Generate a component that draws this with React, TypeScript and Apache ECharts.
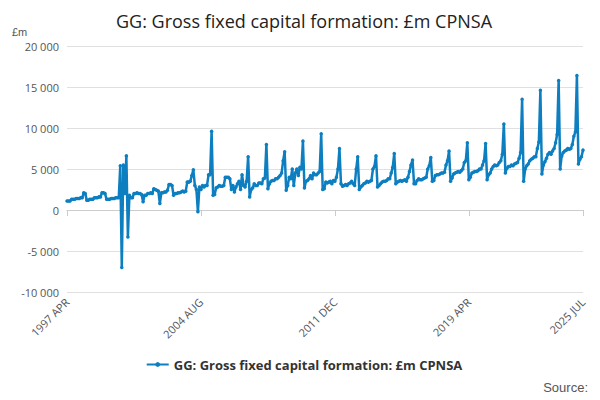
import React, { useEffect, useRef } from "react";
import * as echarts from "echarts";

const months = ["JAN","FEB","MAR","APR","MAY","JUN","JUL","AUG","SEP","OCT","NOV","DEC"];
const categories: string[] = [];
for (let y = 1997, m = 3; !(y === 2025 && m === 7); ) {
  categories.push(`${y} ${months[m]}`);
  m++; if (m === 12) { m = 0; y++; }
}

const fy1997 = [1100,1100,1100,1300,1300,1300,1400,1400,1400,1500,1500,2100];
const fy1998 = [2000,1200,1200,1300,1300,1300,1500,1500,1500,1600,1600,2100];
const fy1999 = [2100,2000,1300,1300,1300,1400,1400,1400,1500,1500,1500,5400];
const fy2000 = [-7000,5500,2000,6600,-3300,1800,1500,1500,2000,2000,2100,2000];
const fy2001 = [2000,1900,1000,1800,1800,2000,2000,2100,2000,2600,2500,2400];
const fy2002 = [2300,800,2100,2100,2200,2200,2400,3100,3100,3000,1800,2000];
const fy2003 = [2000,2100,2100,2200,2300,2200,2300,3400,3400,3500,4200,4900];
const fy2004 = [3000,2500,-200,2800,2500,3000,2800,3000,3000,4300,4300,9600];
const fy2005 = [1800,1900,2700,2800,3000,2900,2900,3000,4000,4000,4000,3800];
const fy2006 = [2500,3000,2200,2800,3200,3500,2500,4300,3000,2800,3500,6500];
const fy2007 = [1600,2500,2700,3200,3000,3000,3300,3300,3200,3800,3900,8000];
const fy2008 = [2600,3200,3500,3600,3600,3800,3800,4000,4200,4500,6000,7100];
const fy2009 = [2400,3000,4000,3800,5000,3000,4500,5000,4200,5200,5000,8400];
const fy2010 = [2700,3500,3600,3800,4200,3800,4500,4300,4300,4500,4700,9300];
const fy2011 = [2500,2600,3400,3300,3400,3500,3200,3600,3500,4000,5000,7500];
const fy2012 = [3200,2900,3000,3100,3000,3200,3300,3500,3200,3000,5000,6500];
const fy2013 = [2500,2800,3000,3200,3300,3500,3400,3500,3600,5000,5300,6600];
const fy2014 = [2800,3000,3200,3400,3500,3500,3600,3800,3800,4500,5200,6900];
const fy2015 = [3200,3400,3500,3600,3500,3600,3700,3500,4000,4700,5500,6100];
const fy2016 = [3200,3200,3600,3800,3700,3700,3800,3900,4000,5000,5400,6400];
const fy2017 = [3500,3600,4200,4300,4300,4400,4500,4500,4600,5500,6000,7200];
const fy2018 = [3500,3900,4400,4500,4600,4700,4600,4800,5000,5800,6000,8200];
const fy2019 = [3700,4000,4500,4600,4700,4700,4800,5000,5000,5500,6000,8100];
const fy2020 = [3700,4300,4500,5000,5300,5500,5400,5500,5800,6000,6800,10500];
const fy2021 = [4500,5100,5300,5300,5500,5400,5600,5700,5800,6300,7000,13500];
const fy2022 = [3500,5000,5400,5600,6000,6200,6300,6500,6500,7500,8300,14600];
const fy2023 = [4400,5500,5900,6300,6800,7000,6800,7200,7500,8200,9200,15800];
const fy2024 = [5000,6600,7000,7200,7300,7500,7400,7500,8000,9000,9500,16400];
const fy2025 = [5600,6200,6500,7300];

const values = [
  ...fy1997, ...fy1998, ...fy1999, ...fy2000, ...fy2001, ...fy2002, ...fy2003,
  ...fy2004, ...fy2005, ...fy2006, ...fy2007, ...fy2008, ...fy2009, ...fy2010,
  ...fy2011, ...fy2012, ...fy2013, ...fy2014, ...fy2015, ...fy2016, ...fy2017,
  ...fy2018, ...fy2019, ...fy2020, ...fy2021, ...fy2022, ...fy2023, ...fy2024, ...fy2025,
];

const seriesName = "GG: Gross fixed capital formation: £m CPNSA";

export default function App() {
  const ref = useRef<HTMLDivElement>(null);
  useEffect(() => {
    const chart = echarts.init(ref.current!, null, { renderer: "svg" });
    const last = categories.length - 1;
    const show = (i: number) => i % 88 === 0 || i === last;
    chart.setOption({
      animation: false,
      textStyle: { fontFamily: "Open Sans, sans-serif" },
      title: {
        text: "GG: Gross fixed capital formation: £m CPNSA",
        left: "center", top: -1,
        textStyle: { fontSize: 18, fontWeight: "normal", color: "#222" },
      },
      graphic: [
        { type: "text", left: 4, top: 18, style: { text: "£m", fontSize: 11, fill: "#555" } },
        { type: "text", right: 12, top: 373, style: { text: "Source:", fontSize: 13, fill: "#555" } },
      ],
      legend: {
        bottom: 24, left: "center",
        textStyle: { fontSize: 13, fontWeight: "bold", color: "#333" },
        itemWidth: 22, itemHeight: 6,
      },
      grid: { left: 59, right: 17, top: 38, bottom: 108 },
      xAxis: {
        type: "category", data: categories, boundaryGap: false,
        axisLine: { lineStyle: { color: "#ccc" } },
        axisTick: { interval: (i: number) => show(i), lineStyle: { color: "#ccc" }, length: 6 },
        axisLabel: { interval: (i: number) => show(i), rotate: 45, color: "#555", fontSize: 11, margin: 8 },
      },
      yAxis: {
        type: "value", min: -10000, max: 20000, interval: 5000,
        axisLabel: {
          color: "#555", fontSize: 11,
          formatter: (v: number) => { const s = Math.abs(v).toString().replace(/\B(?=(\d{3})+(?!\d))/g, " "); return (v < 0 ? "-" : "") + s; },
        },
        splitLine: { lineStyle: { color: "#e0e0e0" } },
      },
      series: [{
        name: seriesName, type: "line", data: values,
        symbol: "circle", symbolSize: 3.5, showAllSymbol: true,
        itemStyle: { color: "#0d7fc0" },
        lineStyle: { width: 2.5, color: "#0d7fc0" },
      }],
    });
    return () => chart.dispose();
  }, []);
  return <div ref={ref} style={{ width: 592, height: 392 }} />;
}
